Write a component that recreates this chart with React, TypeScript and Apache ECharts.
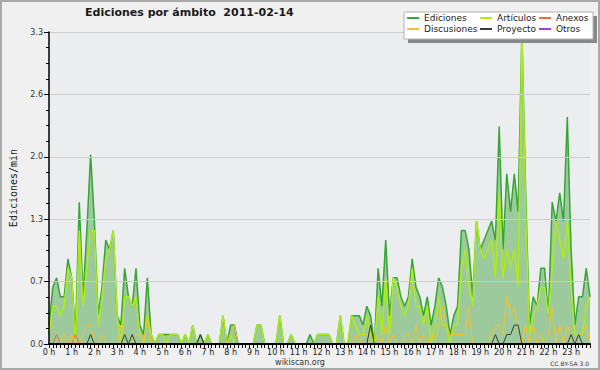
import { useEffect, useRef } from "react";
import * as echarts from "echarts";

const FONT = "DejaVu Sans";

const titleText = "Ediciones por ámbito  2011-02-14";
const yAxisName = "Ediciones/min";
const hourLabels = [
  "0 h", "1 h", "2 h", "3 h", "4 h", "5 h", "6 h", "7 h", "8 h", "9 h", "10 h", "11 h",
  "12 h", "13 h", "14 h", "15 h", "16 h", "17 h", "18 h", "19 h", "20 h", "21 h", "22 h", "23 h",
];
const minuteSlots = ["00", "10", "20", "30", "40", "50"];

const ediciones = [
  0.2, 0.6, 0.7, 0.5, 0.5, 0.9, 0.7, 0.1, 1.5, 0.5, 1.2, 2.0,
  1.3, 0.3, 0.6, 1.1, 1.0, 1.2, 0.3, 0.2, 0.8, 0.5, 0.4, 0.8,
  0.2, 0.1, 0.7, 0.1, 0, 0.1, 0.1, 0.1, 0.1, 0.1, 0.1, 0,
  0.1, 0, 0.2, 0, 0.1, 0, 0.1, 0, 0, 0, 0.3, 0,
  0.2, 0.2, 0, 0, 0, 0, 0, 0.2, 0.2, 0, 0, 0,
  0, 0.3, 0, 0, 0.1, 0, 0, 0, 0, 0.1, 0, 0.1,
  0.1, 0.1, 0.1, 0, 0, 0.3, 0, 0, 0.3, 0.3, 0.3, 0.2,
  0.4, 0.3, 0, 0.8, 0.4, 1.1, 0.3, 0.7, 0.7, 0.5, 0.4, 0.5,
  0.9, 0.6, 0.5, 0.3, 0.5, 0.2, 0.4, 0.7, 0.6, 0.4, 0.1, 0.3,
  0.4, 1.2, 1.2, 1.0, 0.5, 1.3, 1.0, 1.1, 1.2, 1.3, 1.1, 2.3,
  1.0, 1.8, 1.4, 1.8, 1.4, 3.3, 1.6, 0.2, 0.5, 0.4, 0.8, 0.8,
  0.3, 1.5, 1.3, 1.6, 1.3, 2.4, 1.0, 0.2, 0.5, 0.5, 0.8, 0.5,
];

const articulos = [
  0.1, 0.4, 0.4, 0.3, 0.4, 0.8, 0.7, 0, 1.2, 0.4, 0.8, 1.2,
  1.2, 0.2, 0.5, 0.9, 1.0, 1.2, 0.3, 0, 0.5, 0.5, 0.4, 0.5,
  0.1, 0, 0.3, 0.1, 0, 0.1, 0.1, 0, 0.1, 0.1, 0.1, 0,
  0.1, 0, 0.2, 0, 0, 0, 0.1, 0, 0, 0, 0.3, 0,
  0.1, 0, 0, 0, 0, 0, 0, 0.2, 0.2, 0, 0, 0,
  0, 0.3, 0, 0, 0.1, 0, 0, 0, 0, 0, 0, 0.1,
  0.1, 0.1, 0.1, 0, 0, 0.3, 0, 0, 0.3, 0.2, 0.1, 0.1,
  0.3, 0.1, 0, 0.5, 0.1, 0.7, 0.1, 0.7, 0.6, 0.4, 0.3, 0.4,
  0.8, 0.4, 0.4, 0.2, 0.4, 0, 0.2, 0.5, 0.2, 0.2, 0, 0.2,
  0.2, 0.8, 1.0, 0.6, 0.4, 1.3, 1.0, 0.9, 1.0, 1.1, 0.7, 1.6,
  0.7, 1.0, 0.8, 1.0, 0.6, 3.3, 1.4, 0.1, 0.3, 0.4, 0.6, 0.6,
  0.3, 0.8, 1.3, 1.1, 0.9, 1.3, 0.6, 0.1, 0.1, 0.1, 0.4, 0.5,
];

const anexos = [
  0, 0, 0.1, 0, 0, 0, 0, 0.1, 0, 0, 0, 0,
  0, 0, 0, 0, 0, 0, 0, 0, 0, 0, 0, 0,
  0, 0, 0, 0, 0, 0, 0, 0, 0, 0, 0, 0,
  0, 0, 0, 0, 0, 0, 0, 0, 0, 0, 0, 0,
  0, 0, 0, 0, 0, 0, 0, 0, 0, 0, 0, 0,
  0, 0, 0, 0, 0, 0, 0, 0, 0, 0, 0, 0,
  0, 0, 0, 0, 0, 0, 0, 0, 0, 0, 0, 0,
  0, 0, 0, 0, 0, 0, 0, 0, 0, 0, 0, 0,
  0, 0, 0, 0, 0, 0, 0, 0, 0, 0, 0, 0,
  0, 0, 0, 0, 0, 0, 0, 0, 0, 0, 0, 0,
  0, 0, 0, 0, 0, 0, 0, 0, 0, 0, 0, 0,
  0, 0, 0, 0, 0, 0, 0, 0, 0, 0, 0, 0,
];

const discusiones = [
  0, 0, 0, 0, 0.1, 0, 0.1, 0, 0, 0.1, 0.2, 0.2,
  0, 0, 0.1, 0, 0, 0, 0, 0.2, 0.1, 0, 0, 0.1,
  0.1, 0, 0.3, 0, 0, 0, 0, 0, 0, 0, 0, 0,
  0, 0, 0, 0, 0, 0, 0, 0, 0, 0, 0, 0,
  0.1, 0.2, 0, 0, 0, 0, 0, 0, 0, 0, 0, 0,
  0, 0, 0, 0, 0, 0, 0, 0, 0, 0, 0, 0,
  0, 0, 0, 0, 0, 0, 0, 0, 0, 0.1, 0, 0.1,
  0.1, 0, 0, 0.1, 0, 0.2, 0, 0.1, 0, 0, 0.1, 0.1,
  0, 0.2, 0, 0.1, 0, 0.1, 0, 0.2, 0.4, 0.2, 0.1, 0.1,
  0.1, 0.1, 0.1, 0.4, 0, 0, 0, 0, 0, 0.1, 0.2, 0.2,
  0.1, 0.5, 0.3, 0.4, 0.2, 0, 0.2, 0, 0.2, 0, 0.1, 0,
  0.1, 0.4, 0, 0.2, 0, 0.2, 0.1, 0, 0.1, 0.1, 0.2, 0,
];

const proyecto = [
  0, 0, 0, 0, 0, 0, 0, 0, 0, 0, 0, 0.1,
  0, 0, 0, 0, 0, 0, 0, 0, 0.1, 0, 0.1, 0,
  0, 0, 0, 0, 0, 0, 0, 0, 0, 0, 0, 0,
  0, 0, 0, 0, 0.1, 0, 0, 0, 0, 0, 0, 0,
  0, 0, 0, 0, 0, 0, 0, 0, 0, 0, 0, 0,
  0, 0, 0, 0, 0, 0, 0, 0, 0, 0, 0, 0,
  0, 0, 0, 0, 0, 0, 0, 0, 0, 0, 0, 0,
  0, 0.2, 0, 0, 0, 0, 0, 0, 0, 0, 0, 0,
  0, 0, 0, 0, 0, 0, 0, 0, 0, 0, 0, 0,
  0, 0, 0, 0, 0, 0, 0, 0, 0, 0, 0.1, 0,
  0, 0.1, 0.1, 0.2, 0.2, 0, 0, 0, 0, 0, 0, 0,
  0, 0, 0, 0, 0, 0, 0.1, 0, 0.1, 0, 0, 0,
];

const otros = [
  0, 0, 0, 0, 0, 0, 0, 0, 0, 0, 0, 0,
  0, 0, 0, 0, 0, 0, 0, 0, 0, 0, 0, 0,
  0, 0, 0, 0, 0, 0, 0, 0, 0, 0, 0, 0,
  0, 0, 0, 0, 0, 0, 0, 0, 0, 0, 0, 0,
  0, 0, 0, 0, 0, 0, 0, 0, 0, 0, 0, 0,
  0, 0, 0, 0, 0, 0, 0, 0, 0, 0, 0, 0,
  0, 0, 0, 0, 0, 0, 0, 0, 0, 0, 0, 0,
  0, 0, 0, 0, 0, 0, 0, 0, 0, 0, 0, 0,
  0, 0, 0, 0, 0, 0, 0, 0, 0, 0, 0, 0,
  0, 0, 0, 0, 0, 0, 0, 0, 0, 0, 0, 0,
  0, 0, 0, 0, 0, 0, 0, 0, 0, 0, 0, 0,
  0, 0, 0, 0, 0, 0, 0, 0, 0, 0, 0, 0,
];

const yTickValues = [0, 0.66, 1.32, 1.98, 2.64, 3.3];

const categories: string[] = [];
hourLabels.forEach((h, hi) => {
  minuteSlots.forEach((m, mi) => {
    categories.push(mi === 0 ? h : `${hi}:${m}`);
  });
});

const COLORS = {
  ediciones: "#36A536",
  edicionesFill: "#9DCA9D",
  articulos: "#AEEA1C",
  anexos: "#EE6A3A",
  discusiones: "#F2C12E",
  proyecto: "#3A3A3A",
  otros: "#9A3FE8",
};

function lineSeries(name: string, data: number[], color: string, width: number, fill?: string) {
  return {
    type: "line",
    name,
    data,
    symbol: "none",
    showSymbol: false,
    silent: true,
    itemStyle: { color },
    lineStyle: { color, width },
    areaStyle: fill ? { color: fill, opacity: 1 } : undefined,
    emphasis: { disabled: true },
  };
}

export default function App() {
  const ref = useRef<HTMLDivElement>(null);
  useEffect(() => {
    const chart = echarts.init(ref.current!, null, { renderer: "svg" });
    const legendCommon = {
      orient: "vertical",
      top: 13,
      padding: 0,
      itemGap: 1,
      itemWidth: 12,
      itemHeight: 2,
      icon: "rect",
      selectedMode: false,
      z: 20,
      textStyle: { fontFamily: FONT, fontSize: 9, color: "#222", lineHeight: 10 },
    };
    chart.setOption({
      animation: false,
      backgroundColor: "#F0F0F0",
      title: {
        text: titleText,
        left: 85,
        top: 7,
        padding: 0,
        textStyle: { fontFamily: FONT, fontSize: 11, fontWeight: "bold", color: "#1A1A1A" },
      },
      legend: [
        { ...legendCommon, left: 407, data: ["Ediciones", "Discusiones"] },
        { ...legendCommon, left: 480, data: ["Artículos", "Proyecto"] },
        { ...legendCommon, left: 539, data: ["Anexos", "Otros"] },
      ],
      grid: {
        left: 46,
        right: 10,
        top: 32,
        bottom: 26,
        show: true,
        backgroundColor: "#ECEDEF",
        borderWidth: 0,
      },
      xAxis: {
        type: "category",
        data: categories,
        boundaryGap: false,
        z: 5,
        axisLine: { show: true, lineStyle: { color: "#000", width: 2 } },
        axisTick: { show: true, interval: 0, length: 4, lineStyle: { color: "#000", width: 1 } },
        axisLabel: {
          interval: 5,
          fontFamily: FONT,
          fontSize: 8,
          color: "#222",
          margin: 4,
        },
        splitLine: { show: false },
      },
      yAxis: {
        type: "value",
        min: yTickValues[0],
        max: yTickValues[yTickValues.length - 1],
        interval: 0.66,
        z: 5,
        name: yAxisName,
        nameLocation: "middle",
        nameGap: 31,
        nameTextStyle: { fontFamily: "DejaVu Sans Mono", fontSize: 10, color: "#222" },
        axisLine: { show: true, lineStyle: { color: "#000", width: 1.5 } },
        axisTick: { show: true, length: 5, lineStyle: { color: "#000" } },
        minorTick: { show: true, splitNumber: 4, length: 3, lineStyle: { color: "#000" } },
        axisLabel: {
          fontFamily: FONT,
          fontSize: 8,
          color: "#333",
          margin: 6,
          formatter: (v: number) => v.toFixed(1),
        },
        splitLine: { show: true, lineStyle: { color: "#CDCDCD", width: 1 } },
      },
      graphic: [
        {
          type: "rect",
          z: 0,
          shape: { x: 1, y: 1, width: 598, height: 368 },
          style: { fill: "none", stroke: "#A9A9A9", lineWidth: 2 },
          silent: true,
        },
        {
          type: "rect",
          z: 15,
          shape: { x: 408, y: 16, width: 189, height: 27 },
          style: { fill: "#888888" },
          silent: true,
        },
        {
          type: "rect",
          z: 16,
          shape: { x: 404, y: 12, width: 189, height: 27 },
          style: { fill: "#FFFFFF", stroke: "#B4B4B4", lineWidth: 1 },
          silent: true,
        },
        {
          type: "text",
          z: 5,
          x: 300,
          y: 362,
          style: {
            text: "wikiscan.org",
            fontFamily: FONT,
            fontSize: 8,
            fill: "#333",
            align: "center",
            verticalAlign: "middle",
          },
          silent: true,
        },
        {
          type: "text",
          z: 5,
          x: 589,
          y: 363,
          style: {
            text: "CC BY-SA 3.0",
            fontFamily: FONT,
            fontSize: 6,
            fill: "#333",
            align: "right",
            verticalAlign: "middle",
          },
          silent: true,
        },
      ],
      series: [
        lineSeries("Ediciones", ediciones, COLORS.ediciones, 1.5, COLORS.edicionesFill),
        lineSeries("Artículos", articulos, COLORS.articulos, 1.5),
        lineSeries("Anexos", anexos, COLORS.anexos, 1),
        lineSeries("Discusiones", discusiones, COLORS.discusiones, 1),
        lineSeries("Proyecto", proyecto, COLORS.proyecto, 1),
        lineSeries("Otros", otros, COLORS.otros, 1),
      ],
    });
    return () => chart.dispose();
  }, []);
  return (
    <div
      ref={ref}
      style={{ position: "fixed", left: 0, top: 0, width: 600, height: 370 }}
    />
  );
}
